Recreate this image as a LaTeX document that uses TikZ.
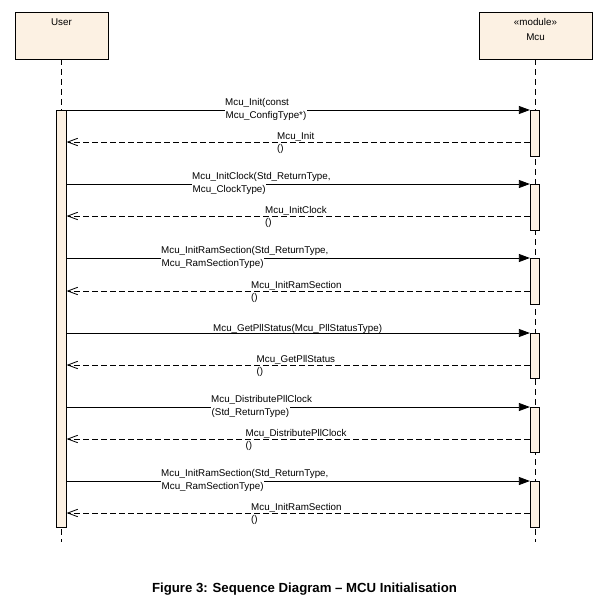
\documentclass[tikz,border=0pt]{standalone}
\usepackage{fontspec}
\setmainfont{Liberation Sans}
\usetikzlibrary{arrows.meta}
\definecolor{boxfill}{RGB}{252,241,227}
\begin{document}
\begin{tikzpicture}[x=1pt,y=-1pt,
  small/.style={font=\fontsize{9.8}{12}\selectfont},
  headbox/.style={draw=black,line width=0.8pt,fill=boxfill,minimum width=93pt,minimum height=47pt,inner sep=0pt},
  headtxt/.style={small,inner sep=0pt},
  life/.style={line width=0.8pt,dash pattern=on 6pt off 4pt},
  actbox/.style={draw=black,line width=0.8pt,fill=boxfill,minimum width=9.5pt,inner sep=0pt,anchor=north},
  callmsg/.style={line width=0.8pt,-{Triangle[length=11pt,width=8pt]}},
  retmsg/.style={line width=0.8pt,dash pattern=on 6pt off 3pt,-{Straight Barb[length=10pt,width=7.5pt,line width=0.8pt]}},
  calltop/.style={small,inner sep=0pt,anchor=base west},
  callbot/.style={small,inner xsep=0.5pt,inner ysep=1.5pt,text height=7.5pt,fill=white,anchor=base west},
  retlbl/.style={small,inner sep=0pt,anchor=west,align=left},
  caption/.style={font=\bfseries\fontsize{13.2}{15}\selectfont,inner sep=0pt}
]
\useasboundingbox (0,0) rectangle (609,609);

% heads
\node[headbox] (user) at (61.5,35.5) {};
\node[headtxt] (usert) at (61.5,22) {User};
\node[headbox,minimum width=113pt] (mcu) at (535.5,35.5) {};
\node[headtxt] (mcus) at (535.5,22) {«module»};
\node[headtxt] (mcut) at (535.5,37) {Mcu};

% lifelines
\coordinate (uend) at (61.5,542);
\coordinate (mend) at (535.5,542);
\draw[life] (user.south) -- (uend);
\draw[life] (mcu.south) -- (mend);

% activations
\node[actbox,minimum height=417pt] (ua) at (61.5,110) {};
\node[actbox,minimum height=46pt] (a1) at (535,110) {};
\node[actbox,minimum height=46pt] (a2) at (535,184) {};
\node[actbox,minimum height=46pt] (a3) at (535,258) {};
\node[actbox,minimum height=45pt] (a4) at (535,333) {};
\node[actbox,minimum height=45pt] (a5) at (535,407) {};
\node[actbox,minimum height=46pt] (a6) at (535,481) {};

% return points
\coordinate (r1) at (535,142);
\coordinate (r2) at (535,216);
\coordinate (r3) at (535,291);
\coordinate (r4) at (535,365);
\coordinate (r5) at (535,439);
\coordinate (r6) at (535,513);

% calls
\draw[callmsg] (ua.east |- a1.north) -- (a1.north west);
\draw[callmsg] (ua.east |- a2.north) -- (a2.north west);
\draw[callmsg] (ua.east |- a3.north) -- (a3.north west);
\draw[callmsg] (ua.east |- a4.north) -- (a4.north west);
\draw[callmsg] (ua.east |- a5.north) -- (a5.north west);
\draw[callmsg] (ua.east |- a6.north) -- (a6.north west);

% returns
\draw[retmsg] (a1.west |- r1) -- (ua.east |- r1);
\draw[retmsg] (a2.west |- r2) -- (ua.east |- r2);
\draw[retmsg] (a3.west |- r3) -- (ua.east |- r3);
\draw[retmsg] (a4.west |- r4) -- (ua.east |- r4);
\draw[retmsg] (a5.west |- r5) -- (ua.east |- r5);
\draw[retmsg] (a6.west |- r6) -- (ua.east |- r6);

% call labels
\node[calltop] (l1a) at (225,105.5) {Mcu\_Init(const};
\node[callbot] (l1b) at (225,118.5) {Mcu\_ConfigType*)};
\node[calltop] (l2a) at (192,179.5) {Mcu\_InitClock(Std\_ReturnType,};
\node[callbot] (l2b) at (192,192.5) {Mcu\_ClockType)};
\node[calltop] (l3a) at (161,253.5) {Mcu\_InitRamSection(Std\_ReturnType,};
\node[callbot] (l3b) at (161,266.5) {Mcu\_RamSectionType)};
\node[calltop] (l4a) at (213,331) {Mcu\_GetPllStatus(Mcu\_PllStatusType)};
\node[calltop] (l5a) at (211,402.5) {Mcu\_DistributePllClock};
\node[callbot] (l5b) at (211,415.5) {(Std\_ReturnType)};
\node[calltop] (l6a) at (161,476.5) {Mcu\_InitRamSection(Std\_ReturnType,};
\node[callbot] (l6b) at (161,489.5) {Mcu\_RamSectionType)};

% return labels
\node[retlbl] (t1) at (277,143) {Mcu\_Init\\()};
\node[retlbl] (t2) at (265,217) {Mcu\_InitClock\\()};
\node[retlbl] (t3) at (251,292) {Mcu\_InitRamSection\\()};
\node[retlbl] (t4) at (256.5,366) {Mcu\_GetPllStatus\\()};
\node[retlbl] (t5) at (245.5,440) {Mcu\_DistributePllClock\\()};
\node[retlbl] (t6) at (251,514) {Mcu\_InitRamSection\\()};

% caption
\node[caption] (cap) at (304.5,589) {Figure 3: Sequence Diagram – MCU Initialisation};
\end{tikzpicture}
\end{document}
